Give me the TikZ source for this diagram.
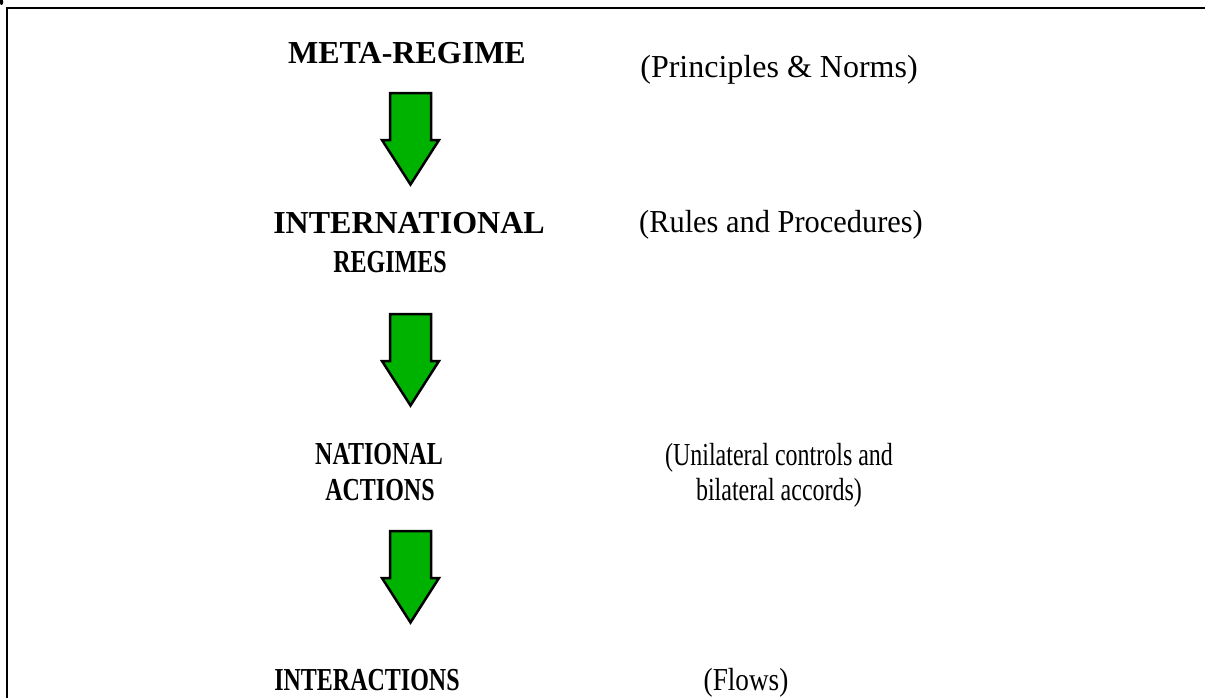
\documentclass[tikz,border=0pt]{standalone}
\usepackage{fontspec}
\setmainfont{Liberation Serif}
\usepackage{graphicx}
\definecolor{arrowgreen}{RGB}{0,178,0}
\tikzset{
  frame/.style={line width=2.8pt, line cap=rect},
  blockarrow/.style={fill=arrowgreen, draw=black, line width=2.5pt, miter limit=10},
  level/.style={font=\fontsize{32}{36}\selectfont\bfseries, anchor=base, inner sep=0pt},
  note/.style={font=\fontsize{32}{36}\selectfont, anchor=base, inner sep=0pt},
  downarrow/.pic={\draw[blockarrow] (-20.5,0) -- (20.5,0) -- (20.5,47) -- (28.5,47) -- (0,91.5) -- (-28.5,47) -- (-20.5,47) -- cycle;}
}
\newcommand{\cond}[1]{\scalebox{0.75}[1]{#1}}
\begin{document}
\begin{tikzpicture}[x=1pt,y=-1pt]
\useasboundingbox (0,0) rectangle (1205,697);
\fill[white] (0,0) rectangle (1205,697);
% frame
\draw[frame] (7,697) -- (7,8) -- (1206,8);
\fill[black] (1.5,2) ellipse (1.8 and 3);
% left column
\node[level] (meta) at (407,63) {META-REGIME};
\node[level] (intl) at (409,233) {INTERNATIONAL};
\node[level] (regimes) at (390,272) {\cond{REGIMES}};
\node[level] (national) at (379,464) {\cond{NATIONAL}};
\node[level] (actions) at (380,500) {\cond{ACTIONS}};
\node[level] (inter) at (367,690) {\cond{INTERACTIONS}};
% right column
\node[note] (pn) at (779,77) {(Principles \& Norms)};
\node[note] (rp) at (781,232) {\scalebox{0.95}[1]{(Rules and Procedures)}};
\node[note] (uc) at (779,465) {\cond{(Unilateral controls and}};
\node[note] (ba) at (779,500) {\cond{bilateral accords)}};
\node[note] (fl) at (746,690) {\scalebox{0.85}[1]{(Flows)}};
% arrows
\coordinate (a1) at (410.5,93);
\coordinate (a2) at (410.5,314);
\coordinate (a3) at (410.5,531);
\pic at (a1) {downarrow};
\pic at (a2) {downarrow};
\pic at (a3) {downarrow};
\end{tikzpicture}
\end{document}
